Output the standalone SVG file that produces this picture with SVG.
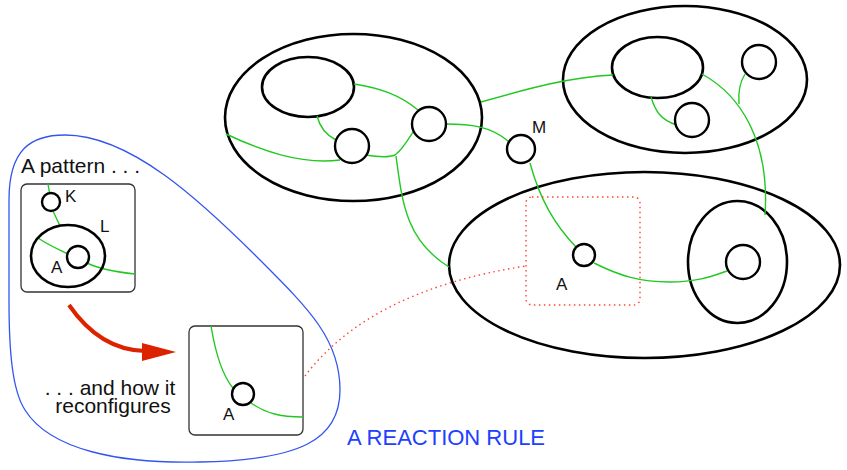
<svg xmlns="http://www.w3.org/2000/svg" width="847" height="470" viewBox="0 0 847 470">
<style>
.big{fill:none;stroke:#000;stroke-width:2.6}
.sm{fill:#fff;stroke:#000;stroke-width:2.4}
.link{fill:none;stroke:#22c822;stroke-width:1.4}
.box{fill:#fff;stroke:#333;stroke-width:1.3}
.lbl{font-family:"Liberation Sans",Arial,sans-serif;font-size:17px;fill:#111}
.txt{font-family:"Liberation Sans",Arial,sans-serif;font-size:21px;fill:#111}
.dot{fill:none;stroke:#ff4433;stroke-width:1.4;stroke-dasharray:1.5 3.5}
</style>
<rect width="847" height="470" fill="#fff"/>
<g id="rule-outline">
<path d="M 9 300 L 9 200 C 9 150 30 135 65 135 C 130 135 200 200 260 260 C 310 310 340 340 340 390 C 340 440 300 460 200 462 C 120 464 50 450 25 410 C 12 390 9 350 9 300 Z" fill="none" stroke="#3355ee" stroke-width="1.3"/>
<text x="347" y="445" font-family="'Liberation Sans',Arial,sans-serif" font-size="22" fill="#2040ff">A REACTION RULE</text>
</g>
<g id="region1">
<ellipse class="big" cx="353.5" cy="117.5" rx="128.5" ry="83.5"/>
<ellipse class="big" cx="308" cy="87" rx="46" ry="30"/>
</g>
<g id="region2">
<ellipse class="big" cx="685" cy="79.5" rx="122" ry="73.5"/>
<ellipse class="big" cx="657.5" cy="67.5" rx="45.5" ry="30.5"/>
</g>
<g id="region3">
<ellipse class="big" cx="644.5" cy="265" rx="195.5" ry="93"/>
<ellipse class="big" cx="737.5" cy="262" rx="49.5" ry="61"/>
</g>
<g id="connectors">
<path class="link" d="M 354 84 C 380 88 400 95 418 110"/>
<path class="link" d="M 317 116 C 320 128 328 136 336 140"/>
<path class="link" d="M 226 134 C 260 150 300 165 340 160"/>
<path class="link" d="M 366 155 C 378 157 390 157 395 155 C 402 150 408 140 413 132"/>
<path class="link" d="M 396 156 C 402 200 405 240 449 267"/>
<path class="link" d="M 446 124 C 470 124 490 126 508 141"/>
<path class="link" d="M 481 102 C 530 88 570 77 613 75"/>
<path class="link" d="M 530 163 C 540 200 555 225 576 247"/>
<path class="link" d="M 594 263 C 620 276 640 282 670 282 C 700 282 715 275 727 271"/>
<path class="link" d="M 651 97 C 655 110 660 120 677 125"/>
<path class="link" d="M 702 74 C 740 95 770 140 765 215"/>
<path class="link" d="M 745 74 C 740 82 738 92 739 104"/>
<path class="dot" d="M 305 376 Q 370 290 526 266"/>
</g>
<g id="node-a"><circle class="sm" cx="352" cy="146" r="17"/></g>
<g id="node-b"><circle class="sm" cx="429" cy="124" r="17"/></g>
<g id="node-m"><circle class="sm" cx="521" cy="149" r="14"/><text class="lbl" x="532" y="133">M</text></g>
<g id="node-c"><circle class="sm" cx="759" cy="62" r="17"/></g>
<g id="node-d"><circle class="sm" cx="692" cy="120" r="17"/></g>
<g id="node-e"><circle class="sm" cx="743" cy="262" r="17"/></g>
<g id="node-A"><circle class="sm" cx="584" cy="255" r="11"/><text class="lbl" x="556" y="290">A</text></g>
<g id="focus-box"><rect class="dot" x="526" y="197" width="114" height="108" rx="6"/></g>
<g id="pattern">
<text class="txt" x="21" y="173">A pattern . . .</text>
<rect class="box" x="21" y="184" width="114" height="108" rx="6"/>
<path class="link" d="M 48 184 L 49.5 193"/>
<path class="link" d="M 53 211 L 60 226"/>
<path class="link" d="M 38 238 C 50 246 60 250 68 254"/>
<path class="link" d="M 87 263 C 100 269 115 272 135 274"/>
<ellipse class="big" cx="68" cy="256" rx="37" ry="31"/>
<circle class="sm" cx="51" cy="202" r="9"/>
<circle class="sm" cx="78" cy="257" r="11"/>
<text class="lbl" x="65" y="202">K</text>
<text class="lbl" x="100" y="232">L</text>
<text class="lbl" x="51" y="273">A</text>
</g>
<g id="arrow">
<path d="M 69 305 Q 100 350 145 351" fill="none" stroke="#dd2200" stroke-width="4"/>
<polygon points="142,343 176,352 142,361" fill="#dd2200"/>
</g>
<g id="reconfigured">
<text class="txt" x="110" y="395" text-anchor="middle">. . . and how it</text>
<text class="txt" x="113" y="413" text-anchor="middle">reconfigures</text>
<rect class="box" x="189" y="326" width="114" height="109" rx="6"/>
<path class="link" d="M 211 326 C 215 350 222 375 233 388"/>
<path class="link" d="M 251 403 C 265 413 280 417 303 417"/>
<circle class="sm" cx="243" cy="394" r="11"/>
<text class="lbl" x="223" y="420">A</text>
</g>
</svg>
